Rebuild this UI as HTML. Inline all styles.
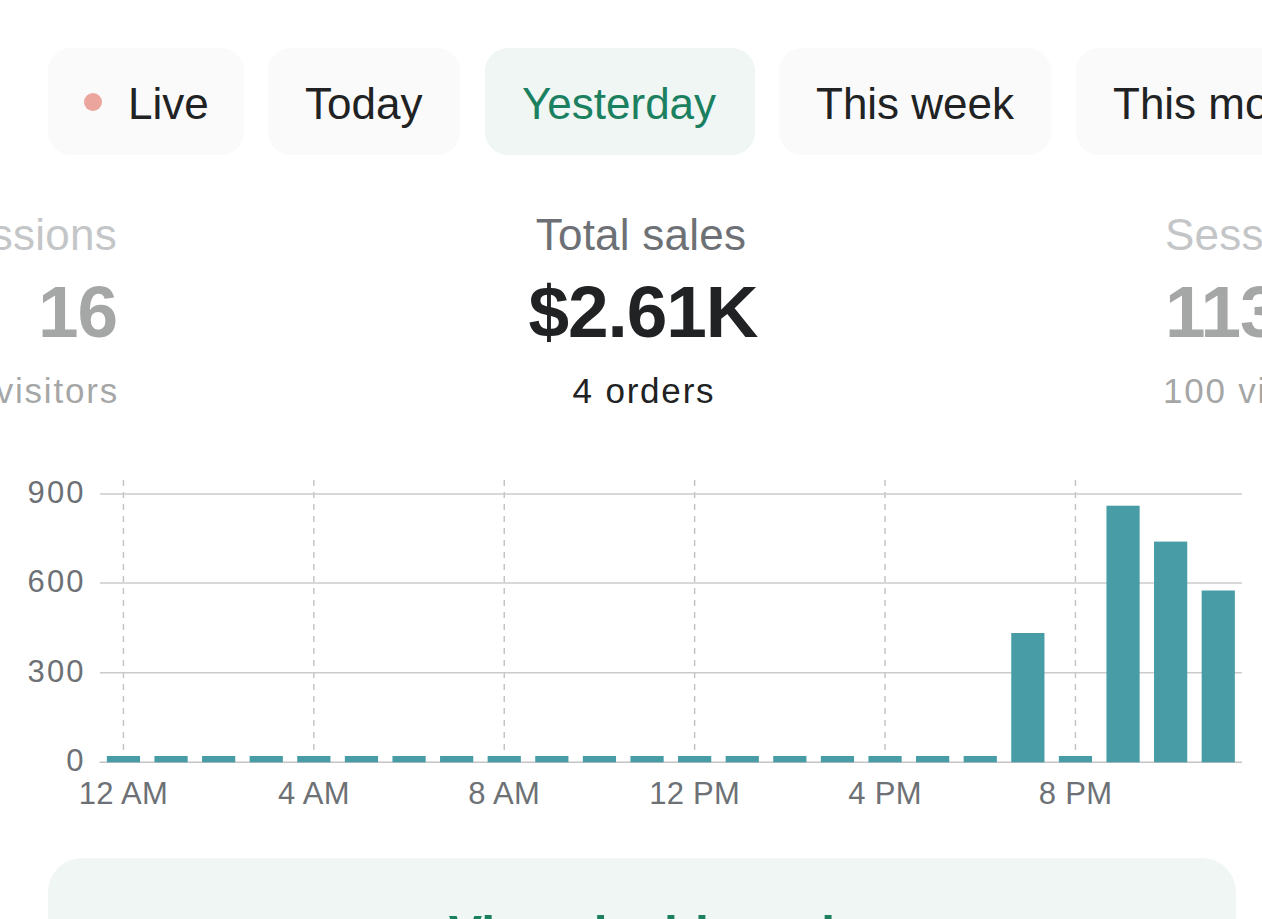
<!DOCTYPE html>
<html>
<head>
<meta charset="utf-8">
<style>
html,body{margin:0;padding:0;background:#fff;}
body{width:1262px;height:919px;overflow:hidden;position:relative;font-family:"Liberation Sans",sans-serif;}
.abs{position:absolute;white-space:nowrap;}
.pill{position:absolute;top:48px;height:107px;border-radius:23px;background:#fafafa;}
.pill span{position:absolute;top:2px;line-height:107px;font-size:44px;color:#202223;white-space:nowrap;}
.pill.sel{background:#eff6f4;}
.pill.sel span{color:#1a8060;}
.lbl{position:absolute;font-size:44px;line-height:50px;letter-spacing:.25px;color:#6d7175;white-space:nowrap;}
.big{position:absolute;font-size:73px;line-height:80px;letter-spacing:-1.1px;font-weight:bold;color:#202223;white-space:nowrap;}
.sub{position:absolute;font-size:35px;line-height:40px;color:#202223;white-space:nowrap;letter-spacing:1.8px;}
.faded{opacity:.4;}
.ax{position:absolute;font-size:31px;line-height:30px;color:#6d7175;white-space:nowrap;}
.yl{width:85.8px;text-align:right;left:0;letter-spacing:2.2px;}
.xl{width:200px;text-align:center;letter-spacing:.3px;}
.hl{position:absolute;left:100px;width:1142px;height:2px;background:#cfd1d3;}
.vl{position:absolute;top:480px;height:272px;width:1.5px;background:repeating-linear-gradient(to bottom,#c6c6c6 0,#c6c6c6 6px,transparent 6px,transparent 12px);}
.bar{position:absolute;width:33px;background:#479ca6;}
.card{position:absolute;left:48px;top:858px;width:1188px;height:200px;border-radius:34px;background:#eff6f4;}
</style>
</head>
<body>
<!-- tabs -->
<div class="pill" style="left:48px;width:196px;"><i style="position:absolute;left:36px;top:45px;width:18px;height:18px;border-radius:50%;background:#eba59c;"></i><span style="left:80px;">Live</span></div>
<div class="pill" style="left:268px;width:192px;"><span style="left:37px;">Today</span></div>
<div class="pill sel" style="left:485px;width:270px;"><span style="left:37px;">Yesterday</span></div>
<div class="pill" style="left:779px;width:272px;"><span style="left:37px;">This week</span></div>
<div class="pill" style="left:1076px;width:300px;"><span style="left:37px;">This month</span></div>

<!-- stats -->
<div class="lbl" style="left:441px;width:400px;text-align:center;top:210px;">Total sales</div>
<div class="big" style="left:443px;width:400px;text-align:center;top:272px;">$2.61K</div>
<div class="sub" style="left:444px;width:400px;text-align:center;top:371px;">4 orders</div>

<div class="lbl faded" style="right:1145px;top:210px;">Sessions</div>
<div class="big faded" style="right:1145px;top:272px;">16</div>
<div class="sub faded" style="right:1143px;top:371px;">16 visitors</div>

<div class="lbl faded" style="left:1165px;top:210px;">Sessions</div>
<div class="big faded" style="left:1165px;top:272px;">113</div>
<div class="sub faded" style="left:1163px;top:371px;">100 visitors</div>

<!-- chart -->
<div id="chart">
<svg class="abs" style="left:0;top:0;" width="1262" height="919" viewBox="0 0 1262 919">
<line x1="123.45" y1="480" x2="123.45" y2="752" stroke="#c2c2c4" stroke-width="1.4" stroke-dasharray="6 6"/>
<line x1="313.85" y1="480" x2="313.85" y2="752" stroke="#c2c2c4" stroke-width="1.4" stroke-dasharray="6 6"/>
<line x1="504.25" y1="480" x2="504.25" y2="752" stroke="#c2c2c4" stroke-width="1.4" stroke-dasharray="6 6"/>
<line x1="694.65" y1="480" x2="694.65" y2="752" stroke="#c2c2c4" stroke-width="1.4" stroke-dasharray="6 6"/>
<line x1="885.05" y1="480" x2="885.05" y2="752" stroke="#c2c2c4" stroke-width="1.4" stroke-dasharray="6 6"/>
<line x1="1075.45" y1="480" x2="1075.45" y2="752" stroke="#c2c2c4" stroke-width="1.4" stroke-dasharray="6 6"/>
<line x1="100" y1="494.0" x2="1242" y2="494.0" stroke="#cbcbcd" stroke-width="1.6"/>
<line x1="100" y1="583.0" x2="1242" y2="583.0" stroke="#cbcbcd" stroke-width="1.6"/>
<line x1="100" y1="672.8" x2="1242" y2="672.8" stroke="#cbcbcd" stroke-width="1.6"/>
<line x1="99.5" y1="762.2" x2="1242" y2="762.2" stroke="#c4c4c6" stroke-width="1.5"/>
<rect x="106.85" y="756" width="33.2" height="6.3" fill="#479ca6"/>
<rect x="154.45" y="756" width="33.2" height="6.3" fill="#479ca6"/>
<rect x="202.05" y="756" width="33.2" height="6.3" fill="#479ca6"/>
<rect x="249.65" y="756" width="33.2" height="6.3" fill="#479ca6"/>
<rect x="297.25" y="756" width="33.2" height="6.3" fill="#479ca6"/>
<rect x="344.85" y="756" width="33.2" height="6.3" fill="#479ca6"/>
<rect x="392.45" y="756" width="33.2" height="6.3" fill="#479ca6"/>
<rect x="440.05" y="756" width="33.2" height="6.3" fill="#479ca6"/>
<rect x="487.65" y="756" width="33.2" height="6.3" fill="#479ca6"/>
<rect x="535.25" y="756" width="33.2" height="6.3" fill="#479ca6"/>
<rect x="582.85" y="756" width="33.2" height="6.3" fill="#479ca6"/>
<rect x="630.45" y="756" width="33.2" height="6.3" fill="#479ca6"/>
<rect x="678.05" y="756" width="33.2" height="6.3" fill="#479ca6"/>
<rect x="725.65" y="756" width="33.2" height="6.3" fill="#479ca6"/>
<rect x="773.25" y="756" width="33.2" height="6.3" fill="#479ca6"/>
<rect x="820.85" y="756" width="33.2" height="6.3" fill="#479ca6"/>
<rect x="868.45" y="756" width="33.2" height="6.3" fill="#479ca6"/>
<rect x="916.05" y="756" width="33.2" height="6.3" fill="#479ca6"/>
<rect x="963.65" y="756" width="33.2" height="6.3" fill="#479ca6"/>
<rect x="1011.25" y="633" width="33.2" height="129.3" fill="#479ca6"/>
<rect x="1058.85" y="756" width="33.2" height="6.3" fill="#479ca6"/>
<rect x="1106.45" y="505.7" width="33.2" height="256.6" fill="#479ca6"/>
<rect x="1154.05" y="541.6" width="33.2" height="220.7" fill="#479ca6"/>
<rect x="1201.65" y="590.5" width="33.2" height="171.8" fill="#479ca6"/>
</svg>
<div class="ax yl" style="top:477.5px;">900</div>
<div class="ax yl" style="top:566.5px;">600</div>
<div class="ax yl" style="top:656.5px;">300</div>
<div class="ax yl" style="top:745.5px;">0</div>
<div class="ax xl" style="left:23.5px;top:778.5px;">12 AM</div>
<div class="ax xl" style="left:213.9px;top:778.5px;">4 AM</div>
<div class="ax xl" style="left:404.2px;top:778.5px;">8 AM</div>
<div class="ax xl" style="left:594.7px;top:778.5px;">12 PM</div>
<div class="ax xl" style="left:785.1px;top:778.5px;">4 PM</div>
<div class="ax xl" style="left:975.5px;top:778.5px;">8 PM</div>
</div><!--endchart-->

<div class="card"><div class="abs" style="left:0;width:1188px;text-align:center;top:47.5px;font-size:50px;line-height:56px;font-weight:bold;color:#1a8060;letter-spacing:.3px;">View dashboard</div></div>
</body>
</html>
